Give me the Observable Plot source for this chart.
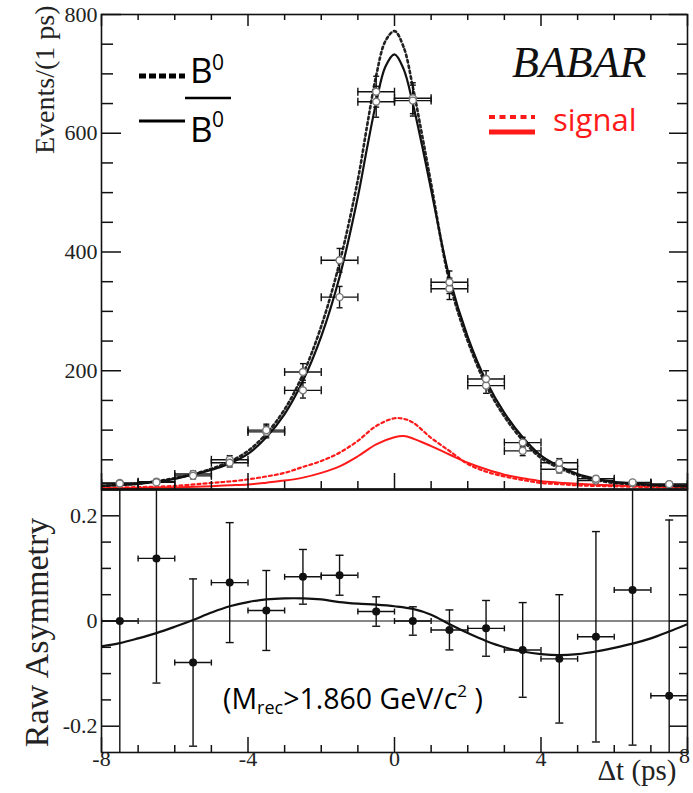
<!DOCTYPE html>
<html><head><meta charset="utf-8">
<script src="https://cdn.jsdelivr.net/npm/d3@7"></script>
<script src="https://cdn.jsdelivr.net/npm/@observablehq/plot@0.6"></script>
<style>
html,body{margin:0;padding:0;background:#fff;}
#wrap{position:relative;width:693px;height:793px;overflow:hidden;background:#fff;}
#wrap svg{position:absolute;left:0;}
</style></head><body><div id="wrap"></div>
<script>
// ---------- data ----------
const binCenters = [-7.5,-6.5,-5.5,-4.5,-3.5,-2.5,-1.5,-0.5,0.5,1.5,2.5,3.5,4.5,5.5,6.5,7.5];
const b0Counts    = [11,13,26,50,97,198,386,670,659,338,175,65,34,15,11,9];
const b0Errors    = [3,4,5,7,10,14,20,26,26,18,13,8,6,4,3,3];
const b0barCounts = [10,12,23,45,100,167,324,653,655,349,186,79,45,18,12,9];
const b0barErrors = [3,3,5,7,10,13,18,26,26,19,14,9,7,4,3,3];
const asymValues  = [0,0.119,-0.079,0.073,0.020,0.084,0.087,0.018,0.000,-0.017,-0.014,-0.055,-0.072,-0.030,0.059,-0.142];
const asymErrors  = [0.40,0.237,0.159,0.114,0.076,0.052,0.038,0.028,0.027,0.038,0.053,0.090,0.122,0.200,0.295,0.334];

const curveT      = [-8,-7.5,-7,-6.5,-6,-5.5,-5,-4.5,-4,-3.5,-3,-2.5,-2,-1.5,-1,-0.75,-0.5,-0.25,0,0.25,0.5,0.75,1,1.5,2,2.5,3,3.5,4,4.5,5,5.5,6,6.5,7,7.5,8];
const b0Curve     = [6,8,10,14,19,26,35,47,65,94,135,194,275,382,522,612,697,755,772,745,678,598,515,350,250,176,123,83,53,36,24,16,11,9,7,6,5];
const b0barCurve  = [6,7.5,9.5,13,18,25,33,44,60,88,127,183,258,358,493,575,652,712,733,708,650,580,505,357,257,183,129,88,57,39,26,18,13,10,8,6.5,5.5];

const sigT          = [-8,-7,-6,-5,-4.5,-4,-3.5,-3,-2.5,-2,-1.5,-1,-0.5,0,0.25,0.5,1,1.5,2,2.5,3,3.5,4,4.5,5,5.5,6,7,8];
const sigB0Curve    = [3,4,6,11,13.5,17,22,28,38,48,62,82,107,120,119,113,87,65,43,30,22,16,11,9,7,6,5.5,4,3];
const sigB0barCurve = [2,2.5,3.5,5.6,7,8.5,11.5,15,20,28,39,56,76,88,90,86,73,59,45,34,25,19,14,11.5,9.5,8,7,5,4];

const asymT     = [-8,-7.5,-7,-6.5,-6,-5.5,-5,-4.5,-4,-3.5,-3,-2.5,-2,-1.5,-1,-0.5,0,0.5,1,1.5,2,2.5,3,3.5,4,4.5,5,5.5,6,6.5,7,7.5,8];
const asymCurve = [-0.048,-0.042,-0.033,-0.023,-0.011,0.002,0.016,0.028,0.036,0.041,0.043,0.043,0.041,0.036,0.033,0.031,0.028,0.023,0.012,-0.006,-0.023,-0.038,-0.050,-0.058,-0.063,-0.065,-0.063,-0.058,-0.051,-0.043,-0.033,-0.020,-0.006];

const topYMajor = [0,200,400,600,800];
const topYLabels = [200,400,600,800];
const botYMajor = [-0.2,0,0.2];
const botYLabels = ["-0.2","0","0.2"];
const xMajor = [-8,-4,0,4,8];
const xLabelVals = [-8,-4,0,4];
const xLabels = ["-8","-4","0","4"];

// ---------- layout ----------
const W = 693, ML = 101, MR = 6, IW = W - ML - MR;
const topH = 500, topMT = 14, topMB = 11, topIH = topH - topMT - topMB;
const botTop = 479, botH = 314, botMT = 10, botMB = 41, botIH = botH - botMT - botMB;
const ink = "#111";
const serif = "'Liberation Serif','Times New Roman',serif";
const red = "#ff1a1a";

const topYMinor = d3.range(50, 800, 50).filter(v => v % 200 !== 0);
const botYMinor = [-0.15,-0.1,-0.05,0.05,0.1,0.15];
const xMinor = d3.range(-7, 8, 1).filter(v => v % 4 !== 0);

const hCap = {draw(ctx, size){ const r = Math.sqrt(size/Math.PI); ctx.moveTo(-r,0); ctx.lineTo(r,0);} };
const vCap = {draw(ctx, size){ const r = Math.sqrt(size/Math.PI); ctx.moveTo(0,-r); ctx.lineTo(0,r);} };

const rows = (ts, vs) => ts.map((t,i) => ({t, v: vs[i]}));
const pts = (vs, es) => binCenters.map((t,i) => ({t, v: vs[i], e: es[i]}));

function errorMarks(data, hr, vr) {
  const s = {stroke: ink, strokeWidth: 1.4, clip: true};
  return [
    Plot.ruleY(data, {y: "v", x1: d => d.t - 0.5, x2: d => d.t + 0.5, ...s}),
    Plot.ruleX(data, {x: "t", y1: d => d.v - d.e, y2: d => d.v + d.e, ...s}),
    Plot.dot(data, {x: d => d.t - 0.5, y: "v", symbol: vCap, r: vr, fill: "none", ...s}),
    Plot.dot(data, {x: d => d.t + 0.5, y: "v", symbol: vCap, r: vr, fill: "none", ...s}),
    Plot.dot(data, {x: "t", y: d => d.v + d.e, symbol: hCap, r: hr, fill: "none", ...s}),
    Plot.dot(data, {x: "t", y: d => d.v - d.e, symbol: hCap, r: hr, fill: "none", ...s})
  ];
}

const tk = {stroke: ink, strokeWidth: 1.5};

// ---------- top panel ----------
const b0Pts = pts(b0Counts, b0Errors);
const b0barPts = pts(b0barCounts, b0barErrors);

const topPlot = Plot.plot({
  width: W, height: topH, marginLeft: ML, marginRight: MR, marginTop: topMT, marginBottom: topMB,
  style: {background: "transparent"},
  x: {domain: [-8, 8], axis: null},
  y: {domain: [0, 800], axis: null},
  marks: [
    Plot.line(rows(sigT, sigB0Curve), {x: "t", y: "v", curve: "catmull-rom", stroke: red, strokeWidth: 2.2, strokeDasharray: "3 3", clip: true}),
    Plot.line(rows(sigT, sigB0barCurve), {x: "t", y: "v", curve: "catmull-rom", stroke: red, strokeWidth: 2, clip: true}),
    Plot.line(rows(curveT, b0Curve), {x: "t", y: "v", curve: "catmull-rom", stroke: "#222", strokeWidth: 2.6, strokeDasharray: "2.5 3", clip: true}),
    Plot.line(rows(curveT, b0barCurve), {x: "t", y: "v", curve: "catmull-rom", stroke: ink, strokeWidth: 2.2, clip: true}),
    ...errorMarks(b0Pts, 3, 4),
    ...errorMarks(b0barPts, 3, 4),
    Plot.dot(b0Pts, {x: "t", y: "v", r: 3.5, stroke: "#777", fill: "white", strokeWidth: 1.4}),
    Plot.dot(b0barPts, {x: "t", y: "v", r: 3.5, stroke: "#777", fill: "white", strokeWidth: 1.4}),
    // ticks
    Plot.tickY(topYMajor, {y: d => d, insetRight: IW - 20, ...tk}),
    Plot.tickY(topYMinor, {y: d => d, insetRight: IW - 12, ...tk}),
    Plot.tickY(topYMajor, {y: d => d, insetLeft: IW - 18, ...tk}),
    Plot.tickY(topYMinor, {y: d => d, insetLeft: IW - 10, ...tk}),
    Plot.tickX(xMajor, {x: d => d, insetBottom: topIH - 12, ...tk}),
    Plot.tickX(xMinor, {x: d => d, insetBottom: topIH - 6, ...tk}),
    Plot.tickX(xMajor, {x: d => d, insetTop: topIH - 16, ...tk}),
    Plot.tickX(xMinor, {x: d => d, insetTop: topIH - 8, ...tk}),
    Plot.frame({stroke: ink, strokeWidth: 1.6}),
    Plot.ruleY([0], {stroke: ink, strokeWidth: 2.6}),
    // labels
    Plot.text(topYLabels, {y: d => d, text: d => String(d), frameAnchor: "left", textAnchor: "end", dx: -4, fontSize: 22, fontFamily: serif, fill: "#222"}),
    Plot.text(["Events/(1 ps)"], {text: d => d, frameAnchor: "top-left", dx: -67, dy: -9, rotate: -90, textAnchor: "end", fontSize: 28, fontFamily: serif, fill: "#222"})
  ]
});

// ---------- bottom panel ----------
const asymPts = pts(asymValues, asymErrors);

const botPlot = Plot.plot({
  width: W, height: botH, marginLeft: ML, marginRight: MR, marginTop: botMT, marginBottom: botMB,
  style: {background: "transparent"},
  x: {domain: [-8, 8], axis: null},
  y: {domain: [-0.25, 0.25], axis: null},
  marks: [
    Plot.ruleY([0], {stroke: ink, strokeWidth: 1.1}),
    Plot.line(rows(asymT, asymCurve), {x: "t", y: "v", curve: "catmull-rom", stroke: ink, strokeWidth: 2.2, clip: true}),
    ...errorMarks(asymPts, 4, 3),
    Plot.dot(asymPts, {x: "t", y: "v", r: 4, fill: ink, stroke: "none"}),
    Plot.tickY(botYMajor, {y: d => d, insetRight: IW - 18, ...tk}),
    Plot.tickY(botYMinor, {y: d => d, insetRight: IW - 10, ...tk}),
    Plot.tickY(botYMajor, {y: d => d, insetLeft: IW - 18, ...tk}),
    Plot.tickY(botYMinor, {y: d => d, insetLeft: IW - 8, ...tk}),
    Plot.tickX(xMajor, {x: d => d, insetTop: botIH - 15, ...tk}),
    Plot.tickX(xMinor, {x: d => d, insetTop: botIH - 7, ...tk}),
    Plot.frame({stroke: ink, strokeWidth: 1.6}),
    Plot.text(botYMajor, {y: d => d, text: (d, i) => botYLabels[i], frameAnchor: "left", textAnchor: "end", dx: -4, fontSize: 22, fontFamily: serif, fill: "#222"}),
    Plot.text(xLabelVals, {x: d => d, text: (d, i) => xLabels[i], frameAnchor: "bottom", dy: 13, fontSize: 22, fontFamily: serif, fill: "#222"}),
    Plot.text([8], {x: d => d, text: d => String(d), frameAnchor: "bottom", dy: 10, dx: -3, fontSize: 22, fontFamily: serif, fill: "#222"}),
    Plot.text(["\u0394t (ps)"], {text: d => d, frameAnchor: "bottom-right", textAnchor: "end", dx: -11, dy: 27, fontSize: 29, fontFamily: serif, fill: "#222"}),
    Plot.text(["Raw Asymmetry"], {text: d => d, frameAnchor: "left", dx: -64, dy: 11.5, rotate: -90, textAnchor: "middle", fontSize: 34, fontFamily: serif, fill: "#222"})
  ]
});

const wrap = document.getElementById("wrap");
topPlot.style.top = "0px"; topPlot.style.background = "transparent";
botPlot.style.top = botTop + "px"; botPlot.style.background = "transparent";
wrap.appendChild(topPlot);
wrap.appendChild(botPlot);

// ---------- legend & annotation overlay ----------
const ns = "http://www.w3.org/2000/svg";
const ov = document.createElementNS(ns, "svg");
ov.setAttribute("width", W); ov.setAttribute("height", 793);
ov.style.top = "0px"; ov.style.pointerEvents = "none";
ov.innerHTML = `
<g font-family="'Open Sans', sans-serif">
  <line x1="139" y1="76" x2="185" y2="76" stroke="#000" stroke-width="5" stroke-dasharray="7 3"/>
  <text x="190" y="83" font-size="35" fill="#000">B</text><text x="212" y="70" font-size="21" fill="#000">0</text>
  <line x1="185" y1="98" x2="231" y2="98" stroke="#000" stroke-width="2.5"/>
  <line x1="139" y1="121" x2="185" y2="121" stroke="#000" stroke-width="3"/>
  <text x="190" y="142" font-size="35" fill="#000">B</text><text x="212" y="127" font-size="21" fill="#000">0</text>
  <line x1="489" y1="117" x2="535" y2="117" stroke="${red}" stroke-width="4" stroke-dasharray="6 4.5"/>
  <line x1="489" y1="132" x2="535" y2="132" stroke="${red}" stroke-width="5"/>
  <text x="553" y="131" font-size="31" fill="${red}">signal</text>
  <text x="223" y="709" font-size="28.5" fill="#000">(M<tspan font-size="18" dy="5">rec</tspan><tspan dy="-5">&gt;1.860 GeV/c</tspan><tspan font-size="17" dy="-12">2</tspan><tspan dy="12"> )</tspan></text>
</g>
<text x="512" y="77" font-family="'Liberation Serif', serif" font-style="italic" font-size="44" fill="#111">BABAR</text>`;
wrap.appendChild(ov);
</script>
</body></html>
